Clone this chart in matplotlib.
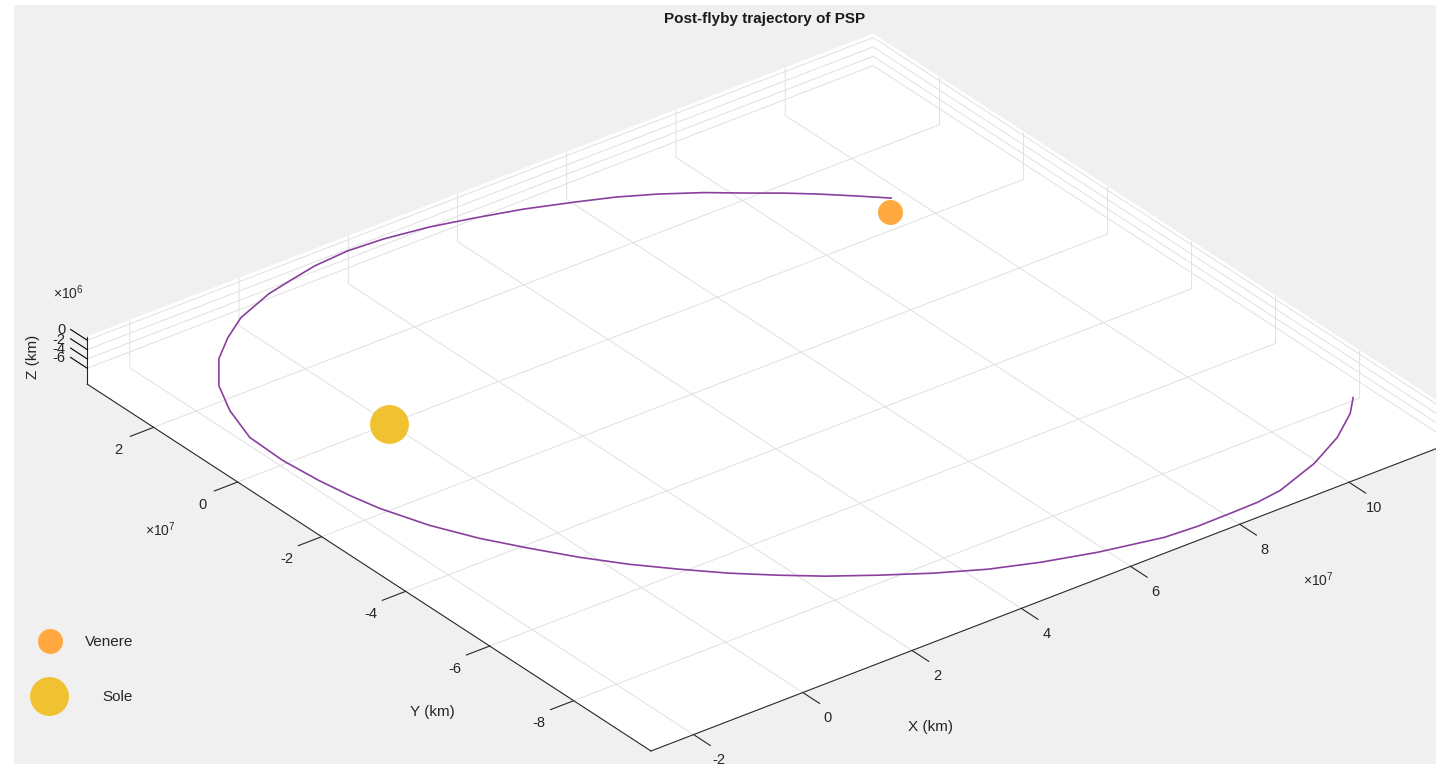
import numpy as np
import matplotlib
matplotlib.use("Agg")
import matplotlib.pyplot as plt
from matplotlib.lines import Line2D
from matplotlib.patches import Rectangle
from matplotlib.ticker import FuncFormatter, FixedLocator

plt.rcParams['font.family'] = ['Liberation Sans', 'DejaVu Sans']
plt.rcParams['mathtext.fontset'] = 'custom'
plt.rcParams['mathtext.rm'] = 'Liberation Sans'
plt.rcParams['grid.color'] = '#e0e0e0'
plt.rcParams['grid.linewidth'] = 0.7

# ---------------- data (km) ----------------
traj_x = [9.226, 8.872, 8.436, 8.042, 7.643, 7.111, 6.545, 6.001, 5.434, 4.717,
          3.977, 3.296, 2.552, 1.926, 1.285, 0.737, 0.271, -0.465,
          -0.956, -1.417, -1.874, -2.168, -2.389, -2.391, -2.306, -2.196, -2.063, -1.764,
          -1.396, -0.978, -0.543, -0.074, 0.429, 0.949, 1.502, 2.038, 2.677, 3.357,
          4.071, 4.812, 5.651, 6.692, 7.266, 7.874, 8.377, 8.850, 9.707, 10.417,
          10.976, 11.282]
traj_y = [0.051, 0.375, 0.758, 1.076, 1.365, 1.765, 2.122, 2.412, 2.649, 2.927,
          3.153, 3.336, 3.462, 3.503, 3.452, 3.334, 3.226, 2.935,
          2.605, 2.219, 1.625, 0.982, 0.218, -0.568, -1.313, -1.906, -2.446, -3.244,
          -3.954, -4.597, -5.219, -5.797, -6.330, -6.842, -7.310, -7.730, -8.157, -8.579,
          -8.957, -9.252, -9.515, -9.753, -9.790, -9.783, -9.770, -9.701, -9.395, -9.018,
          -8.600, -8.273]
traj_z = [-2.97, -2.84, -2.69, -2.57, -2.46, -2.30, -2.16, -2.05, -1.95, -1.84,
          -1.76, -1.69, -1.64, -1.62, -1.64, -1.69, -1.73, -1.84,
          -1.97, -2.12, -2.36, -2.61, -2.90, -3.21, -3.50, -3.74, -3.95, -4.26,
          -4.54, -4.79, -5.03, -5.26, -5.46, -5.66, -5.85, -6.01, -6.18, -6.34,
          -6.49, -6.61, -6.71, -6.80, -6.82, -6.81, -6.81, -6.78, -6.66, -6.52,
          -6.35, -6.22]
traj_x = [v * 1e7 for v in traj_x]
traj_y = [v * 1e7 for v in traj_y]
traj_z = [v * 1e6 for v in traj_z]

venus_pos = [8.968e7, -0.261e7, -2.97e6]
sun_pos = [0.0, 0.0, -9.4e6]

XLIM = (-2.78e7, 11.61e7)
YLIM = (-9.84e7, 3.58e7)
ZLIM = (-9.4e6, 0.7e6)
x_ticks = [-2e7, 0, 2e7, 4e7, 6e7, 8e7, 10e7]
y_ticks = [-8e7, -6e7, -4e7, -2e7, 0, 2e7]
z_ticks = [-6e6, -4e6, -2e6, 0]

title = 'Post-flyby trajectory of PSP'
labels = ['Venere', 'Sole']

# ---------------- figure ----------------
W, H = 1436, 764
fig = plt.figure(figsize=(W / 100, H / 100), dpi=100, facecolor='white')
fig.patches.append(Rectangle((14 / W, 0), 1 - 14 / W, (H - 5) / H,
                             transform=fig.transFigure, facecolor='#f0f0f0',
                             edgecolor='none', zorder=-10))

ax = fig.add_axes([0, 0, 1, 1], projection='3d', proj_type='ortho',
                  computed_zorder=False)
ax.set_facecolor('none')
ax.view_init(elev=30.04, azim=-127.57)
ax.set_xlim(*XLIM)
ax.set_ylim(*YLIM)
ax.set_zlim(*ZLIM)
ax.set_box_aspect((993.8, 926.7, 54.6))

for axis in (ax.xaxis, ax.yaxis, ax.zaxis):
    axis.set_pane_color((1, 1, 1, 1))
    axis.pane.set_edgecolor('white')
    axis.line.set_color('#262626')
    axis.line.set_linewidth(0.8)
    axis._axinfo['tick']['linewidth'] = {True: 0.8, False: 0.6}
    axis._axinfo['tick']['color'] = '#262626'

# x / y axes sit on the front edges: ticks must point away from the panes
for axis in (ax.xaxis, ax.yaxis):
    axis._axinfo['tick']['inward_factor'] = 0.37
    axis._axinfo['tick']['outward_factor'] = 0.0
# z axis: ticks along +y (away from the box, as in the reference)
ax.zaxis._get_tickdir = lambda *a, **k: 1
ax.zaxis._axinfo['tick']['inward_factor'] = 0.0
ax.zaxis._axinfo['tick']['outward_factor'] = 0.37

ax.xaxis.set_major_locator(FixedLocator(x_ticks))
ax.yaxis.set_major_locator(FixedLocator(y_ticks))
ax.zaxis.set_major_locator(FixedLocator(z_ticks))
ax.xaxis.set_major_formatter(FuncFormatter(lambda v, p: f'{v / 1e7:g}'))
ax.yaxis.set_major_formatter(FuncFormatter(lambda v, p: f'{v / 1e7:g}'))
ax.zaxis.set_ticklabels([])
ax.tick_params(axis='x', labelsize=10.5, colors='#262626', pad=14)
ax.tick_params(axis='y', labelsize=10.5, colors='#262626', pad=14)
ax.grid(True)

# z tick labels, placed right-aligned at the outer end of each tick
for zt in z_ticks:
    ax.text(XLIM[0] - 0.08e7, YLIM[1] + 0.42e7, zt, f'{zt / 1e6:g}',
            ha='right', va='center', fontsize=10.5, color='#262626')

ax.plot(traj_x, traj_y, traj_z, color='#8a3f9e', lw=1.2, zorder=3)
ax.plot([venus_pos[0]], [venus_pos[1]], [venus_pos[2]], marker='o', ms=18,
        color='#ffa940', mec='none', ls='none', zorder=5)
ax.plot([sun_pos[0]], [sun_pos[1]], [sun_pos[2]], marker='o', ms=28,
        color='#f0c232', mec='none', ls='none', zorder=5)

# ---------- calibrate axes position so the box lands where it should ----------
def to_px(x, y, z):
    M = ax.get_proj()
    v = M @ np.array([x, y, z, 1.0])
    return ax.transData.transform((v[0] / v[3], v[1] / v[3]))

fig.canvas.draw()
for _ in range(2):
    F = to_px(XLIM[0], YLIM[0], ZLIM[0])
    L = to_px(XLIM[0], YLIM[1], ZLIM[0])
    tF = np.array([651.0, H - 751.0])
    tL = np.array([88.0, H - 383.0])
    k = np.linalg.norm(tF - tL) / np.linalg.norm(F - L)
    bb = ax.get_position()
    x0, y0, S = bb.x0 * W, bb.y0 * H, bb.width * W
    nS = S * k
    nx0 = tF[0] - k * (F[0] - x0)
    ny0 = tF[1] - k * (F[1] - y0)
    ax.set_position([nx0 / W, ny0 / H, nS / W, nS / H])
    fig.canvas.draw()

# ---------------- texts ----------------
def ft(x, y, s, **kw):
    fig.text(x / W, 1 - y / H, s, **kw)

ft(765, 19, title, ha='center', va='center', fontsize=11, fontweight='bold',
   color='#1a1a1a')
ft(930, 727, 'X (km)', ha='center', va='center', fontsize=11, color='#262626')
ft(432, 712, 'Y (km)', ha='center', va='center', fontsize=11, color='#262626')
ft(33, 357, 'Z (km)', ha='center', va='center', fontsize=11, color='#262626',
   rotation=90)
ft(1318, 580, r'$\mathregular{\times10^{7}}$', ha='center', va='center',
   fontsize=10, color='#262626')
ft(160, 530, r'$\mathregular{\times10^{7}}$', ha='center', va='center',
   fontsize=10, color='#262626')
ft(68, 293, r'$\mathregular{\times10^{6}}$', ha='center', va='center',
   fontsize=10, color='#262626')

# ---------------- legend ----------------
h_venus = Line2D([], [], marker='o', ms=18, color='#ffa940', mec='none', ls='none')
h_sun = Line2D([], [], marker='o', ms=28, color='#f0c232', mec='none', ls='none')
fs = 11
fs_px = fs * 100 / 72
lg1 = fig.legend([h_venus], [labels[0]], loc='center left',
                 bbox_to_anchor=((42 - fs_px) / W, 1 - 642 / H),
                 frameon=False, fontsize=fs, borderpad=0, handlelength=2,
                 handletextpad=(85 - 50 - fs_px) / fs_px, labelcolor='#262626')
lg2 = fig.legend([h_sun], [labels[1]], loc='center left',
                 bbox_to_anchor=((41 - fs_px) / W, 1 - 697 / H),
                 frameon=False, fontsize=fs, borderpad=0, handlelength=2,
                 handletextpad=(103 - 49 - fs_px) / fs_px, labelcolor='#262626')

fig.savefig('out.png', dpi=100, facecolor=fig.get_facecolor())
